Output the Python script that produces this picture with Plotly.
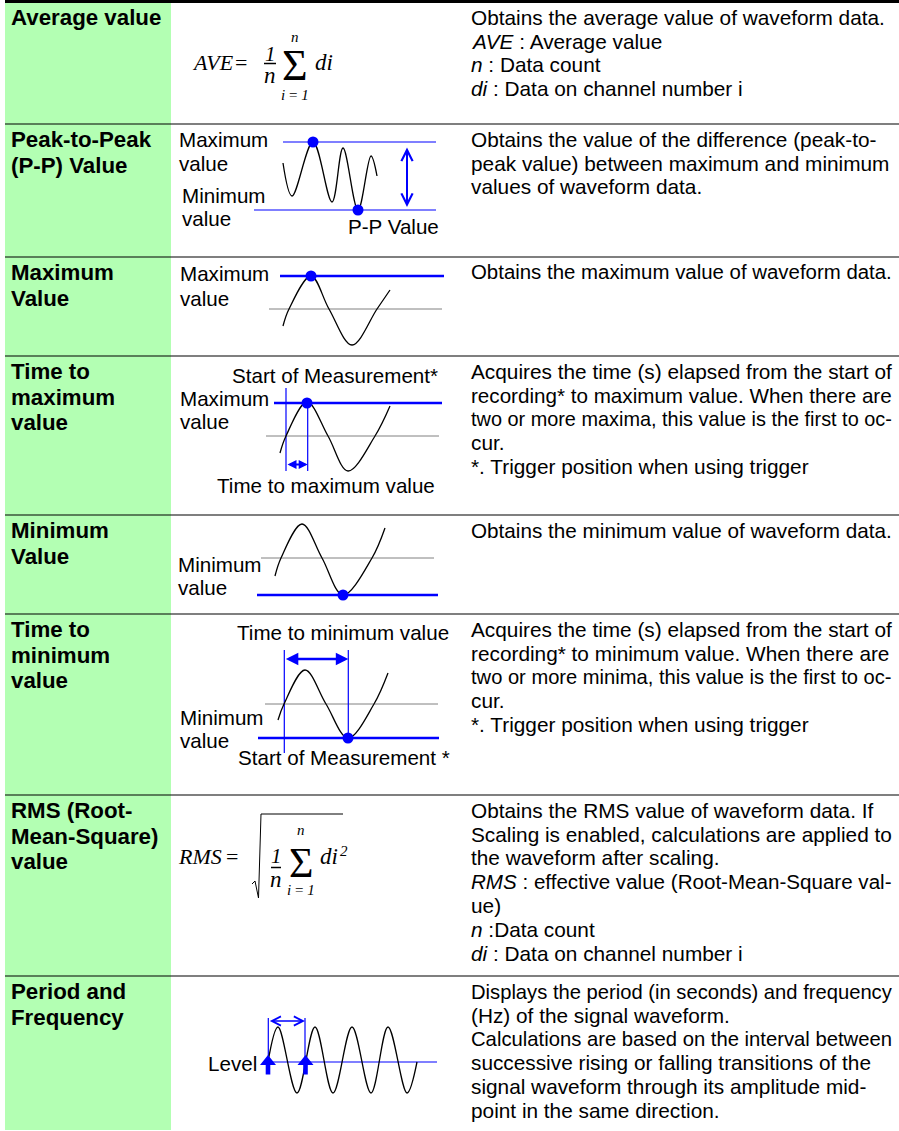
import plotly.graph_objects as go

# ---------------- content / values ----------------
W, H = 899, 1131
SANS = "Liberation Sans, Arial, Helvetica, sans-serif"
SERIF = "Liberation Serif, Times New Roman, serif"
BLUE = "#0000FF"
GRAY = "#808080"
GREEN = "#B3FFB3"

row_tops = [2, 124, 257, 356, 515, 614, 795, 976]

row_labels = [
    ["Average value"],
    ["Peak-to-Peak", "(P-P) Value"],
    ["Maximum", "Value"],
    ["Time to", "maximum", "value"],
    ["Minimum", "Value"],
    ["Time to", "minimum", "value"],
    ["RMS (Root-", "Mean-Square)", "value"],
    ["Period and", "Frequency"],
]

row_desc = [
    ["Obtains the average value of waveform data.",
     "<i>AVE</i> : Average value",
     "<i>n</i> : Data count",
     "<i>di</i> : Data on channel number i"],
    ["Obtains the value of the difference (peak-to-",
     "peak value) between maximum and minimum",
     "values of waveform data."],
    ["Obtains the maximum value of waveform data."],
    ["Acquires the time (s) elapsed from the start of",
     "recording* to maximum value. When there are",
     "two or more maxima, this value is the first to oc-",
     "cur.",
     "*. Trigger position when using trigger"],
    ["Obtains the minimum value of waveform data."],
    ["Acquires the time (s) elapsed from the start of",
     "recording* to minimum value. When there are",
     "two or more minima, this value is the first to oc-",
     "cur.",
     "*. Trigger position when using trigger"],
    ["Obtains the RMS value of waveform data. If",
     "Scaling is enabled, calculations are applied to",
     "the waveform after scaling.",
     "<i>RMS</i> : effective value (Root-Mean-Square val-",
     "ue)",
     "<i>n</i> :Data count",
     "<i>di</i> : Data on channel number i"],
    ["Displays the period (in seconds) and frequency",
     "(Hz) of the signal waveform.",
     "Calculations are based on the interval between",
     "successive rising or falling transitions of the",
     "signal waveform through its amplitude mid-",
     "point in the same direction."],
]

# waveform key points (peaks, troughs, mid-level crossings)
pp_wave_x = [283, 292, 313, 332, 343, 358, 371, 377]
pp_wave_y = [163, 196, 142, 202, 148, 210, 156, 176]
max_wave_x = [283, 289, 311, 329, 352, 377, 390]
max_wave_y = [326, 309, 276, 309, 345, 309, 290]
tmax_wave_x = [280, 286, 307, 328, 348, 375, 390]
tmax_wave_y = [453, 436, 402, 436, 471, 436, 406]
min_wave_x = [275, 281, 302, 322, 343, 372, 385]
min_wave_y = [576, 558, 524, 558, 595, 558, 528]
tmin_wave_x = [278, 284, 305, 326, 348, 374, 388]
tmin_wave_y = [720, 704, 670, 704, 738, 704, 673]
per_wave_x = [268, 278, 297, 315, 333, 352, 371, 388, 407, 417]
per_wave_y = [1062, 1027, 1093, 1027, 1093, 1027, 1093, 1027, 1093, 1062]

# marked extreme points
dot_x = [313, 358, 311, 307, 343, 348]
dot_y = [142, 210, 276, 403, 595, 738]

# gray mid-lines: (y, x0, x1)
mid_lines = [(309, 269, 442), (436, 266, 439), (558, 261, 434), (704, 265, 438)]
# blue horizontal lines: (y, x0, x1, width)
blue_h = [(142, 283, 436, 1.2), (210, 254, 436, 1.2), (276, 280, 444, 2.5),
          (403, 274, 442, 2.5), (595, 257, 438, 2.5), (738, 258, 439, 2.5),
          (1062, 268, 437, 1.2)]
# blue vertical lines: (x, y0, y1)
blue_v = [(286, 388, 471), (307.7, 402, 471), (284.3, 650, 753), (348.3, 650, 738),
          (268.3, 1018, 1062), (305, 1018, 1062)]
# double arrows: (x0, y0, x1, y1, head, width, size)
dbl_arrows = [(407, 146, 407, 207, 5, 2, 1.1),
              (286, 464.5, 307.7, 464.5, 2, 2, 0.9),
              (284.3, 659, 348.3, 659, 2, 2.5, 1.0),
              (268.3, 1021, 305, 1021, 5, 1.5, 1.2)]
level_arrow_x = [268, 305.5]

# diagram texts: (x, baseline, text)
diagram_texts = [
    (179, 147, "Maximum"), (179, 171, "value"), (182, 203, "Minimum"), (182, 226, "value"),
    (348, 234, "P-P Value"),
    (180, 281, "Maximum"), (180, 306, "value"),
    (232, 383, "Start of Measurement*"), (180, 406, "Maximum"), (180, 429, "value"),
    (217, 493, "Time to maximum value"),
    (178, 572, "Minimum"), (178, 595, "value"),
    (237, 640, "Time to minimum value"), (180, 725, "Minimum"), (180, 748, "value"),
    (238, 765, "Start of Measurement *"),
    (208, 1071, "Level"),
]

# Arial / Liberation Sans advance widths (1/1000 em), used to fit description lines
_AW = {" ": 278, "(": 333, ")": 333, "*": 389, ",": 278, "-": 333, ".": 278, ":": 278,
       "A": 667, "C": 722, "D": 722, "E": 667, "H": 722, "I": 278, "M": 833, "O": 778,
       "R": 722, "S": 667, "T": 611, "V": 667, "W": 944, "z": 500,
       "a": 556, "b": 556, "c": 500, "d": 556, "e": 556, "f": 278, "g": 556, "h": 556,
       "i": 222, "j": 222, "k": 500, "l": 222, "m": 833, "n": 556, "o": 556, "p": 556,
       "q": 556, "r": 333, "s": 500, "t": 278, "u": 556, "v": 500, "w": 722, "x": 500,
       "y": 500}


def em_width(s):
    s = s.replace("<i>", "").replace("</i>", "")
    return sum(_AW.get(c, 556) for c in s) / 1000.0


# ---------------- drawing ----------------
fig = go.Figure()
annotations = []
shapes = []


def text(x, base, s, size=20.6, family=SANS, xanchor="left", color="black"):
    k = 0.3375 if family == SERIF else 0.3465
    annotations.append(dict(x=x, y=base - k * size, text=s, showarrow=False,
                            xref="x", yref="y", xanchor=xanchor, yanchor="middle",
                            font=dict(family=family, size=size, color=color),
                            borderpad=0, borderwidth=0))


def hline(y, x0, x1, color="black", width=1.2):
    shapes.append(dict(type="line", xref="x", yref="y", x0=x0, x1=x1, y0=y, y1=y,
                       line=dict(color=color, width=width), layer="below"))


def vline(x, y0, y1, color=BLUE, width=1.2):
    shapes.append(dict(type="line", xref="x", yref="y", x0=x, x1=x, y0=y0, y1=y1,
                       line=dict(color=color, width=width), layer="below"))


def wave(xs, ys):
    fig.add_trace(go.Scatter(x=xs, y=ys, mode="lines", hoverinfo="skip",
                             line=dict(color="black", width=1.3, shape="spline", smoothing=1)))


# green label column
shapes.append(dict(type="rect", xref="x", yref="y", x0=5, x1=171, y0=3, y1=1130,
                   fillcolor=GREEN, line=dict(width=0), layer="below"))
# row separators
hline(1.5, 5, W, "black", 3)
for t in row_tops[1:]:
    hline(t, 5, W, "black", 1.2)

# labels and descriptions
DESC_X, DESC_MAXW = 471, 421
for top, lab, desc in zip(row_tops, row_labels, row_desc):
    for i, s in enumerate(lab):
        text(11, top + 23.5 + i * 25.5, "<b>" + s + "</b>", 22.3)
    for i, s in enumerate(desc):
        size = min(20.8, DESC_MAXW / em_width(s))
        text(DESC_X, top + 22.5 + i * 23.8, s, size)

# gray mid lines
for y, x0, x1 in mid_lines:
    hline(y, x0, x1, GRAY, 1)
# blue lines
for y, x0, x1, w in blue_h:
    hline(y, x0, x1, BLUE, w)
for x, y0, y1 in blue_v:
    vline(x, y0, y1)

# waveforms
for xs, ys in [(pp_wave_x, pp_wave_y), (max_wave_x, max_wave_y), (tmax_wave_x, tmax_wave_y),
               (min_wave_x, min_wave_y), (tmin_wave_x, tmin_wave_y), (per_wave_x, per_wave_y)]:
    wave(xs, ys)

# dots
fig.add_trace(go.Scatter(x=dot_x, y=dot_y, mode="markers", hoverinfo="skip",
                         marker=dict(color=BLUE, size=11, line=dict(width=0))))

# double arrows
for x0, y0, x1, y1, head, w, sz in dbl_arrows:
    annotations.append(dict(x=x1, y=y1, ax=x0, ay=y0, xref="x", yref="y", axref="x", ayref="y",
                            text="", showarrow=True, arrowhead=head, startarrowhead=head,
                            arrowside="end+start", arrowwidth=w, arrowsize=sz, startarrowsize=sz,
                            arrowcolor=BLUE, standoff=0, startstandoff=0))

# level block arrows
for cx in level_arrow_x:
    px = [cx, cx + 8, cx + 2.3, cx + 2.3, cx - 2.3, cx - 2.3, cx - 8, cx]
    py = [1055, 1065, 1065, 1074.5, 1074.5, 1065, 1065, 1055]
    fig.add_trace(go.Scatter(x=px, y=py, mode="lines", fill="toself", fillcolor=BLUE,
                             line=dict(width=0, color=BLUE), hoverinfo="skip"))

for x, b, s in diagram_texts:
    text(x, b, s, 20.6)

# ---- formulas ----
# average
text(192, 70, "<i>AVE</i>", 22, SERIF)
text(235, 70, "=", 22, SERIF)
text(270, 61, "<i>1</i>", 21, SERIF, "center")
hline(63.5, 264, 276, "black", 1.5)
text(270, 83, "<i>n</i>", 23, SERIF, "center")
text(295, 80, "Σ", 44, SERIF, "center")
text(295, 42, "<i>n</i>", 15, SERIF, "center")
text(294.5, 100, "<i>i</i> = <i>1</i>", 15, SERIF, "center")
text(315, 70, "<i>di</i>", 23, SERIF)

# rms
text(178, 864, "<i>RMS</i>", 22, SERIF)
text(226, 864, "=", 22, SERIF)
sqrt_x = [252, 255, 258.5, 261, 343]
sqrt_y = [884, 881, 898, 814, 814]
fig.add_trace(go.Scatter(x=sqrt_x, y=sqrt_y, mode="lines", hoverinfo="skip",
                         line=dict(color="black", width=1)))
text(276, 863, "<i>1</i>", 21, SERIF, "center")
hline(867.5, 271, 281, "black", 1.5)
text(276, 887, "<i>n</i>", 23, SERIF, "center")
text(300.5, 877, "Σ", 42, SERIF, "center")
text(300.5, 835, "<i>n</i>", 15, SERIF, "center")
text(300.5, 895, "<i>i</i> = <i>1</i>", 15, SERIF, "center")
text(320, 864, "<i>di</i>", 23, SERIF)
text(340, 856, "<i>2</i>", 15, SERIF)

fig.update_layout(
    width=W, height=H, margin=dict(l=0, r=0, t=0, b=0),
    paper_bgcolor="white", plot_bgcolor="white", showlegend=False,
    xaxis=dict(range=[0, W], visible=False, fixedrange=True),
    yaxis=dict(range=[H, 0], visible=False, fixedrange=True),
    annotations=annotations, shapes=shapes,
)
fig.write_html("out.html", config={"displayModeBar": False},
               post_script="document.body.style.margin='0';document.body.style.overflow='hidden';")
